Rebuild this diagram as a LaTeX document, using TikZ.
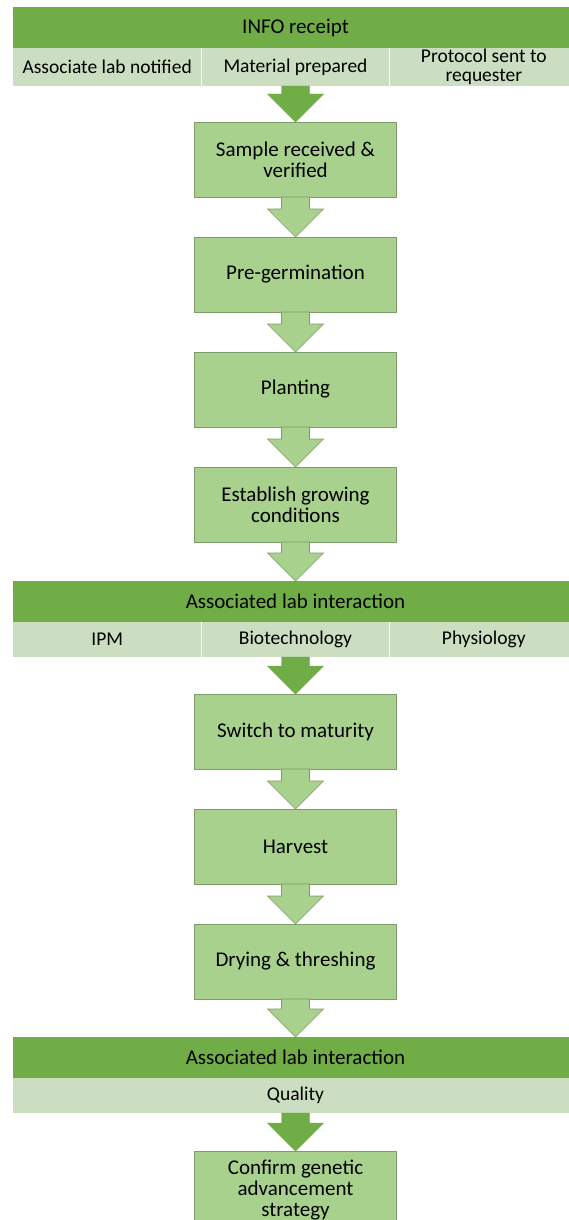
\documentclass[tikz,border=0pt]{standalone}
\usepackage{fontspec}
\setmainfont{Carlito}
\usepackage{tikz}
\usetikzlibrary{positioning,calc}

\definecolor{headgreen}{HTML}{70AD47}
\definecolor{rowgreen}{HTML}{CBDEC1}
\definecolor{boxgreen}{HTML}{A9D18E}
\definecolor{boxline}{HTML}{7E9B6A}

\newcommand{\stepfont}{\fontsize{21}{21}\selectfont}
\newcommand{\cellfont}{\fontsize{19.5}{19.5}\selectfont}

\begin{document}
\begin{tikzpicture}[node distance=115pt,on grid,
  head/.style={fill=headgreen,minimum width=565pt,minimum height=41pt,inner sep=0pt,outer sep=0pt,font=\stepfont},
  cell/.style={fill=rowgreen,minimum width=188.33pt,minimum height=38pt,inner sep=0pt,outer sep=0pt,align=center,font=\cellfont},
  widecell/.style={cell,minimum width=565pt},
  stage/.style={fill=boxgreen,draw=boxline,line width=0.8pt,minimum width=202pt,minimum height=75pt,inner sep=2pt,outer sep=0pt,align=center,font=\stepfont},
  divider/.style={draw=white,line width=0.8pt}]
  \path[use as bounding box,clip] (0,0) rectangle (569pt,-1220pt);
  \node[head]          (info)    at (295.5pt,-27.5pt)          {INFO receipt};
  \node[cell]          (infoB)   [below =39.5pt of info]       {Material prepared};
  \node[cell]          (infoA)   [left =188.33pt of infoB]     {Associate lab notified};
  \node[cell]          (infoC)   [right =188.33pt of infoB]    {Protocol sent to\\requester};
  \node[stage]         (recv)    [below =92.5pt of infoB]      {Sample received \&\\verified};
  \node[stage]         (germ)    [below =of recv]              {Pre-germination};
  \node[stage]         (plant)   [below =of germ]              {Planting};
  \node[stage]         (estab)   [below =of plant]             {Establish growing\\conditions};
  \node[head]          (labA)    [below =97pt of estab]        {Associated lab interaction};
  \node[cell,minimum height=35pt] (biotech) [below =38pt of labA]  {Biotechnology};
  \node[cell,minimum height=35pt] (ipm)     [left =188.33pt of biotech]  {IPM};
  \node[cell,minimum height=35pt] (physio)  [right =188.33pt of biotech] {Physiology};
  \node[stage]         (mature)  [below =92pt of biotech]      {Switch to maturity};
  \node[stage]         (harv)    [below =of mature]            {Harvest};
  \node[stage]         (dry)     [below =of harv]              {Drying \& threshing};
  \node[head]          (labB)    [below =96pt of dry]          {Associated lab interaction};
  \node[widecell,minimum height=35pt] (qual) [below =38pt of labB] {Quality};
  \node[stage,minimum height=78pt] (confirm) [below =94.5pt of qual] {Confirm genetic\\advancement\\strategy};

  % cell borders in the light rows
  \draw[divider] (infoA.north east) -- (infoA.south east)
                 (infoB.north east) -- (infoB.south east)
                 (ipm.north east) -- (ipm.south east)
                 (biotech.north east) -- (biotech.south east);

\tikzset{fatarrow/.style={to path={let \p1=(\tikztostart),\p2=(\tikztotarget) in
    ({\x1-14pt},\y1) -- ({\x1+14pt},\y1) -- ({\x1+14pt},{\y2+28pt}) -- ({\x1+28pt},{\y2+28pt})
    -- (\x1,\y2) -- ({\x1-28pt},{\y2+28pt}) -- ({\x1-14pt},{\y2+28pt}) -- cycle}}}
\tikzset{litearrow/.style={fatarrow,fill=boxgreen,draw=boxline,line width=0.6pt}}
\tikzset{darkarrow/.style={fatarrow,fill=headgreen,draw=headgreen,line width=0.4pt}}
\path (infoB.south)   edge [darkarrow] (recv.north)
      (recv.south)    edge [litearrow] (germ.north)
      (germ.south)    edge [litearrow] (plant.north)
      (plant.south)   edge [litearrow] (estab.north)
      (estab.south)   edge [litearrow] (labA.north)
      (biotech.south) edge [darkarrow] (mature.north)
      (mature.south)  edge [litearrow] (harv.north)
      (harv.south)    edge [litearrow] (dry.north)
      (dry.south)     edge [litearrow] (labB.north)
      (qual.south)    edge [darkarrow] (confirm.north);
\end{tikzpicture}
\end{document}
